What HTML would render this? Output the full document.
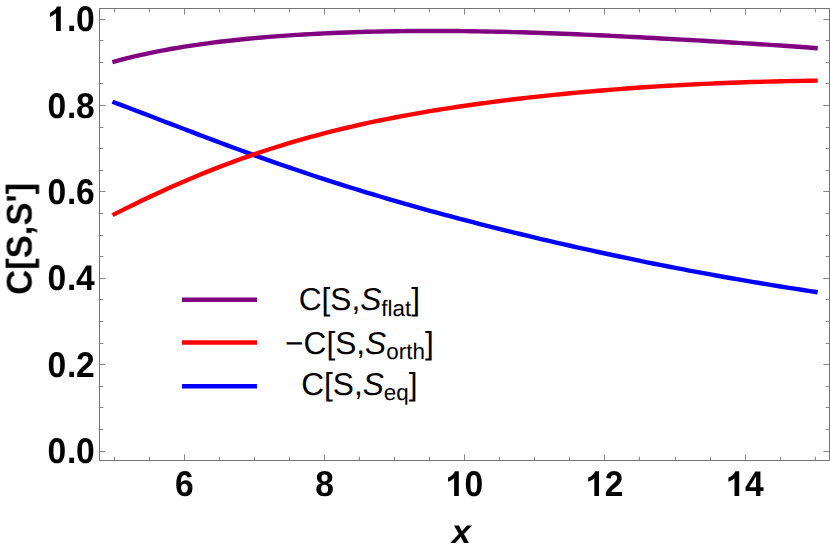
<!DOCTYPE html>
<html><head><meta charset="utf-8"><title>Plot</title>
<style>
html,body{margin:0;padding:0;background:#fff;}
body{width:830px;height:551px;overflow:hidden;font-family:"Liberation Sans",sans-serif;}
svg{display:block;}
</style></head><body>
<svg width="830" height="551" viewBox="0 0 830 551">
<rect width="830" height="551" fill="#fff"/>
<path d="M114.50,102.56 L121.51,105.18 L128.52,107.81 L135.53,110.47 L142.54,113.14 L149.55,115.82 L156.56,118.51 L163.57,121.20 L170.58,123.89 L177.59,126.57 L184.60,129.26 L191.61,131.93 L198.62,134.60 L205.63,137.25 L212.64,139.89 L219.65,142.51 L226.66,145.12 L233.67,147.71 L240.68,150.28 L247.69,152.83 L254.70,155.36 L261.71,157.86 L268.72,160.34 L275.73,162.80 L282.74,165.24 L289.75,167.65 L296.76,170.04 L303.77,172.40 L310.78,174.74 L317.79,177.05 L324.80,179.34 L331.81,181.60 L338.82,183.83 L345.83,186.05 L352.84,188.23 L359.85,190.40 L366.86,192.54 L373.87,194.65 L380.88,196.74 L387.89,198.81 L394.90,200.86 L401.91,202.88 L408.92,204.89 L415.93,206.87 L422.94,208.83 L429.95,210.76 L436.96,212.68 L443.97,214.58 L450.98,216.46 L457.99,218.32 L465.00,220.16 L472.01,221.99 L479.02,223.79 L486.03,225.58 L493.04,227.35 L500.05,229.10 L507.06,230.84 L514.07,232.56 L521.08,234.26 L528.09,235.95 L535.10,237.62 L542.11,239.28 L549.12,240.92 L556.13,242.55 L563.14,244.16 L570.15,245.75 L577.16,247.33 L584.17,248.90 L591.18,250.45 L598.19,251.98 L605.20,253.50 L612.21,255.01 L619.22,256.50 L626.23,257.97 L633.24,259.43 L640.25,260.88 L647.26,262.31 L654.27,263.72 L661.28,265.12 L668.29,266.50 L675.30,267.86 L682.31,269.21 L689.32,270.55 L696.33,271.87 L703.34,273.17 L710.35,274.45 L717.36,275.72 L724.37,276.98 L731.38,278.22 L738.39,279.44 L745.40,280.65 L752.41,281.84 L759.42,283.01 L766.43,284.18 L773.44,285.32 L780.45,286.46 L787.46,287.58 L794.47,288.69 L801.48,289.78 L808.49,290.87 L815.50,291.94" fill="none" stroke="#0000ff" stroke-width="4.4" stroke-linecap="square" stroke-linejoin="round"/>
<path d="M114.50,214.14 L121.51,210.61 L128.52,207.13 L135.53,203.70 L142.54,200.32 L149.55,196.99 L156.56,193.71 L163.57,190.49 L170.58,187.32 L177.59,184.22 L184.60,181.17 L191.61,178.19 L198.62,175.26 L205.63,172.40 L212.64,169.60 L219.65,166.87 L226.66,164.20 L233.67,161.59 L240.68,159.04 L247.69,156.56 L254.70,154.14 L261.71,151.78 L268.72,149.48 L275.73,147.24 L282.74,145.06 L289.75,142.95 L296.76,140.88 L303.77,138.88 L310.78,136.93 L317.79,135.04 L324.80,133.20 L331.81,131.41 L338.82,129.67 L345.83,127.99 L352.84,126.35 L359.85,124.76 L366.86,123.22 L373.87,121.72 L380.88,120.26 L387.89,118.85 L394.90,117.48 L401.91,116.14 L408.92,114.85 L415.93,113.59 L422.94,112.37 L429.95,111.19 L436.96,110.03 L443.97,108.91 L450.98,107.83 L457.99,106.77 L465.00,105.74 L472.01,104.74 L479.02,103.77 L486.03,102.82 L493.04,101.90 L500.05,101.01 L507.06,100.14 L514.07,99.29 L521.08,98.47 L528.09,97.67 L535.10,96.89 L542.11,96.13 L549.12,95.39 L556.13,94.67 L563.14,93.98 L570.15,93.30 L577.16,92.64 L584.17,92.00 L591.18,91.38 L598.19,90.78 L605.20,90.19 L612.21,89.63 L619.22,89.08 L626.23,88.55 L633.24,88.04 L640.25,87.54 L647.26,87.07 L654.27,86.61 L661.28,86.17 L668.29,85.75 L675.30,85.34 L682.31,84.96 L689.32,84.59 L696.33,84.23 L703.34,83.90 L710.35,83.58 L717.36,83.28 L724.37,83.00 L731.38,82.74 L738.39,82.49 L745.40,82.25 L752.41,82.04 L759.42,81.83 L766.43,81.65 L773.44,81.47 L780.45,81.31 L787.46,81.16 L794.47,81.03 L801.48,80.90 L808.49,80.78 L815.50,80.67" fill="none" stroke="#ff0000" stroke-width="4.4" stroke-linecap="square" stroke-linejoin="round"/>
<path d="M114.50,61.55 L121.51,59.67 L128.52,57.89 L135.53,56.20 L142.54,54.61 L149.55,53.10 L156.56,51.67 L163.57,50.31 L170.58,49.03 L177.59,47.82 L184.60,46.67 L191.61,45.59 L198.62,44.56 L205.63,43.59 L212.64,42.66 L219.65,41.79 L226.66,40.97 L233.67,40.19 L240.68,39.46 L247.69,38.76 L254.70,38.11 L261.71,37.49 L268.72,36.90 L275.73,36.35 L282.74,35.84 L289.75,35.35 L296.76,34.90 L303.77,34.47 L310.78,34.08 L317.79,33.71 L324.80,33.36 L331.81,33.05 L338.82,32.75 L345.83,32.48 L352.84,32.24 L359.85,32.02 L366.86,31.82 L373.87,31.64 L380.88,31.48 L387.89,31.35 L394.90,31.23 L401.91,31.14 L408.92,31.07 L415.93,31.01 L422.94,30.97 L429.95,30.96 L436.96,30.96 L443.97,30.98 L450.98,31.01 L457.99,31.07 L465.00,31.14 L472.01,31.23 L479.02,31.33 L486.03,31.45 L493.04,31.59 L500.05,31.74 L507.06,31.91 L514.07,32.09 L521.08,32.28 L528.09,32.49 L535.10,32.71 L542.11,32.95 L549.12,33.20 L556.13,33.45 L563.14,33.72 L570.15,34.01 L577.16,34.30 L584.17,34.60 L591.18,34.91 L598.19,35.23 L605.20,35.56 L612.21,35.90 L619.22,36.24 L626.23,36.59 L633.24,36.95 L640.25,37.31 L647.26,37.68 L654.27,38.06 L661.28,38.44 L668.29,38.83 L675.30,39.22 L682.31,39.61 L689.32,40.01 L696.33,40.41 L703.34,40.82 L710.35,41.23 L717.36,41.64 L724.37,42.06 L731.38,42.48 L738.39,42.91 L745.40,43.34 L752.41,43.77 L759.42,44.21 L766.43,44.66 L773.44,45.11 L780.45,45.57 L787.46,46.04 L794.47,46.52 L801.48,47.01 L808.49,47.51 L815.50,48.03" fill="none" stroke="#800080" stroke-width="4.4" stroke-linecap="square" stroke-linejoin="round"/>
<path d="M114.5,460.0v-3.3M114.5,9.0v3.3M149.5,460.0v-3.3M149.5,9.0v3.3M184.5,460.0v-5.6M184.5,9.0v5.6M219.5,460.0v-3.3M219.5,9.0v3.3M254.5,460.0v-3.3M254.5,9.0v3.3M289.5,460.0v-3.3M289.5,9.0v3.3M324.5,460.0v-5.6M324.5,9.0v5.6M359.5,460.0v-3.3M359.5,9.0v3.3M394.5,460.0v-3.3M394.5,9.0v3.3M429.5,460.0v-3.3M429.5,9.0v3.3M464.5,460.0v-5.6M464.5,9.0v5.6M499.5,460.0v-3.3M499.5,9.0v3.3M534.5,460.0v-3.3M534.5,9.0v3.3M569.5,460.0v-3.3M569.5,9.0v3.3M604.5,460.0v-5.6M604.5,9.0v5.6M639.5,460.0v-3.3M639.5,9.0v3.3M675.5,460.0v-3.3M675.5,9.0v3.3M710.5,460.0v-3.3M710.5,9.0v3.3M745.5,460.0v-5.6M745.5,9.0v5.6M780.5,460.0v-3.3M780.5,9.0v3.3M815.5,460.0v-3.3M815.5,9.0v3.3M100.0,451.5h5.6M829.0,451.5h-5.6M100.0,429.5h3.3M829.0,429.5h-3.3M100.0,407.5h3.3M829.0,407.5h-3.3M100.0,386.5h3.3M829.0,386.5h-3.3M100.0,364.5h5.6M829.0,364.5h-5.6M100.0,343.5h3.3M829.0,343.5h-3.3M100.0,321.5h3.3M829.0,321.5h-3.3M100.0,299.5h3.3M829.0,299.5h-3.3M100.0,278.5h5.6M829.0,278.5h-5.6M100.0,256.5h3.3M829.0,256.5h-3.3M100.0,235.5h3.3M829.0,235.5h-3.3M100.0,213.5h3.3M829.0,213.5h-3.3M100.0,191.5h5.6M829.0,191.5h-5.6M100.0,170.5h3.3M829.0,170.5h-3.3M100.0,148.5h3.3M829.0,148.5h-3.3M100.0,127.5h3.3M829.0,127.5h-3.3M100.0,105.5h5.6M829.0,105.5h-5.6M100.0,83.5h3.3M829.0,83.5h-3.3M100.0,62.5h3.3M829.0,62.5h-3.3M100.0,40.5h3.3M829.0,40.5h-3.3M100.0,19.5h5.6M829.0,19.5h-5.6" fill="none" stroke="#868686" stroke-width="1"/>
<rect x="99.5" y="8.5" width="730.0" height="452.0" fill="none" stroke="#757575" stroke-width="1"/>
<g class="t" text-rendering="geometricPrecision" opacity="0.999" font-family="Liberation Sans, sans-serif" font-weight="bold" font-size="34.3" fill="#000"><text transform="translate(56.84,463.10) scale(0.98,1.04)" text-anchor="middle">0</text><text transform="translate(71.64,463.10) scale(0.98,1.04)" text-anchor="middle">.</text><text transform="translate(85.44,463.10) scale(0.98,1.04)" text-anchor="middle">0</text><text transform="translate(56.84,376.70) scale(0.98,1.04)" text-anchor="middle">0</text><text transform="translate(71.64,376.70) scale(0.98,1.04)" text-anchor="middle">.</text><text transform="translate(85.44,376.70) scale(0.98,1.04)" text-anchor="middle">2</text><text transform="translate(56.84,290.30) scale(0.98,1.04)" text-anchor="middle">0</text><text transform="translate(71.64,290.30) scale(0.98,1.04)" text-anchor="middle">.</text><text transform="translate(85.44,290.30) scale(0.98,1.04)" text-anchor="middle">4</text><text transform="translate(56.84,203.90) scale(0.98,1.04)" text-anchor="middle">0</text><text transform="translate(71.64,203.90) scale(0.98,1.04)" text-anchor="middle">.</text><text transform="translate(85.44,203.90) scale(0.98,1.04)" text-anchor="middle">6</text><text transform="translate(56.84,117.50) scale(0.98,1.04)" text-anchor="middle">0</text><text transform="translate(71.64,117.50) scale(0.98,1.04)" text-anchor="middle">.</text><text transform="translate(85.44,117.50) scale(0.98,1.04)" text-anchor="middle">8</text><path d="M806 0H525V1059Q371 915 162 846V1101Q272 1137 401 1237.5T578 1472H806Z" transform="translate(47.30,31.10) scale(0.01675,-0.01675)"/><text transform="translate(71.64,31.10) scale(0.98,1.04)" text-anchor="middle">.</text><text transform="translate(85.44,31.10) scale(0.98,1.04)" text-anchor="middle">0</text><text transform="translate(184.40,495.90) scale(0.98,1.04)" text-anchor="middle">6</text><text transform="translate(324.60,495.90) scale(0.98,1.04)" text-anchor="middle">8</text><path d="M806 0H525V1059Q371 915 162 846V1101Q272 1137 401 1237.5T578 1472H806Z" transform="translate(445.32,495.90) scale(0.01675,-0.01675)"/><text transform="translate(473.94,495.90) scale(0.98,1.04)" text-anchor="middle">0</text><path d="M806 0H525V1059Q371 915 162 846V1101Q272 1137 401 1237.5T578 1472H806Z" transform="translate(585.52,495.90) scale(0.01675,-0.01675)"/><text transform="translate(614.14,495.90) scale(0.98,1.04)" text-anchor="middle">2</text><path d="M806 0H525V1059Q371 915 162 846V1101Q272 1137 401 1237.5T578 1472H806Z" transform="translate(725.72,495.90) scale(0.01675,-0.01675)"/><text transform="translate(754.34,495.90) scale(0.98,1.04)" text-anchor="middle">4</text><text transform="translate(461.4,543.0) scale(1,0.955)" text-anchor="middle" font-style="italic" font-size="34.5">x</text><text transform="translate(31.8,238.85) rotate(-90) scale(1.004,1.04)" text-anchor="middle" font-size="34.5">C[S,S']</text></g>
<line x1="182" x2="257" y1="299.8" y2="299.8" stroke="#800080" stroke-width="4.4"/>
<line x1="182" x2="257" y1="342.5" y2="342.5" stroke="#ff0000" stroke-width="4.4"/>
<line x1="182" x2="257" y1="386.2" y2="386.2" stroke="#0000ff" stroke-width="4.4"/>
<g class="t" text-rendering="geometricPrecision" opacity="0.999" font-family="Liberation Sans, sans-serif" fill="#000"><text x="359.4" y="310.4" text-anchor="middle" font-size="31.65">C[S,<tspan font-style="italic">S</tspan><tspan font-size="22.45" dy="5.6">flat</tspan><tspan dy="-5.6">]</tspan></text><text x="359.4" y="353.5" text-anchor="middle" font-size="31.65">−C[S,<tspan font-style="italic">S</tspan><tspan font-size="22.45" dy="5.6">orth</tspan><tspan dy="-5.6">]</tspan></text><text x="359.4" y="394.7" text-anchor="middle" font-size="31.65">C[S,<tspan font-style="italic">S</tspan><tspan font-size="22.45" dy="5.6">eq</tspan><tspan dy="-5.6">]</tspan></text></g>
</svg>
</body></html>
